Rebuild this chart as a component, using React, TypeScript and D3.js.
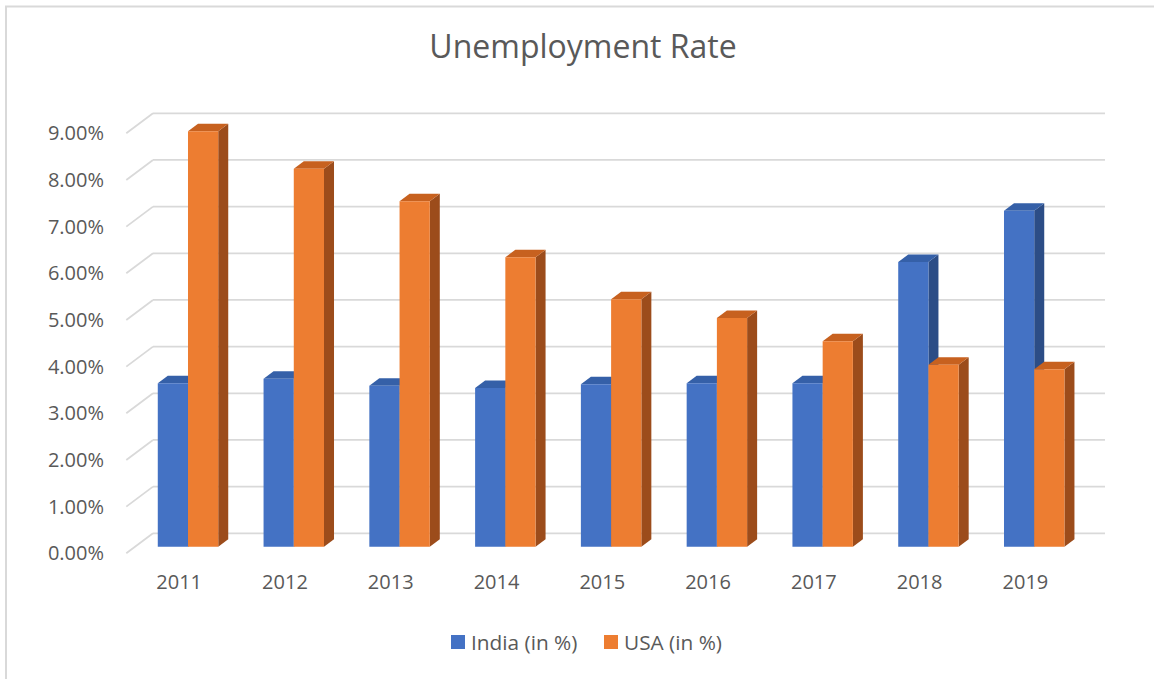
import React from "react";
import * as d3 from "d3";

const years = ["2011", "2012", "2013", "2014", "2015", "2016", "2017", "2018", "2019"];
const india = [3.5, 3.6, 3.45, 3.4, 3.48, 3.5, 3.5, 6.1, 7.2];
const usa = [8.9, 8.1, 7.4, 6.2, 5.3, 4.9, 4.4, 3.9, 3.8];
const yTicks = [0, 1, 2, 3, 4, 5, 6, 7, 8, 9];
const seriesNames = ["India (in %)", "USA (in %)"];

const W = 1154;
const H = 679;
const DX = -26.7; // projection offset of full depth (back -> front)
const DY = 20;
const Z_BACK = 0.295;
const Z_FRONT = 0.67;
const FONT = "'Open Sans', sans-serif";
const TEXT = "#595959";
const GRID = "#d9d9d9";

const colors = [
  { front: "#4472C4", top: "#3560A8", side: "#2C4D86" },
  { front: "#ED7D31", top: "#C7611F", side: "#9C4C1B" },
];

export default function App() {
  const x = d3.scaleBand<string>().domain(years).range([153, 1105]).padding(0);
  const y = d3.scaleLinear().domain([0, 9]).range([533.3, 113.3]);
  const bw = x.bandwidth() / 3.5;
  const fmt = (v: number) => d3.format(".2f")(v) + "%";

  const proj = (px: number, v: number, z: number): [number, number] => [px + DX * z, y(v) + DY * z];
  const pts = (arr: [number, number][]) => arr.map((p) => p.join(",")).join(" ");

  const bars: React.ReactNode[] = [];
  years.forEach((yr, i) => {
    [india[i], usa[i]].forEach((v, s) => {
      const x0 = (x(yr) as number) + bw * 0.75 + s * bw;
      const x1 = x0 + bw;
      const c = colors[s];
      const fTL = proj(x0, v, Z_FRONT);
      const fTR = proj(x1, v, Z_FRONT);
      const fBR = proj(x1, 0, Z_FRONT);
      const fBL = proj(x0, 0, Z_FRONT);
      const bTL = proj(x0, v, Z_BACK);
      const bTR = proj(x1, v, Z_BACK);
      const bBR = proj(x1, 0, Z_BACK);
      bars.push(
        <g key={yr + s}>
          <polygon points={pts([fTR, bTR, bBR, fBR])} fill={c.side} />
          <polygon points={pts([fTL, fTR, bTR, bTL])} fill={c.top} />
          <polygon points={pts([fTL, fTR, fBR, fBL])} fill={c.front} />
        </g>
      );
    });
  });

  return (
    <div style={{ position: "absolute", left: 0, top: 0 }}>
      <svg width={W} height={H} style={{ display: "block", background: "#fff" }}>
        <rect x={6} y={6.5} width={W + 20} height={H + 20} fill="#fff" stroke={GRID} strokeWidth={2} />
        <text x={583} y={58} textAnchor="middle" fontFamily={FONT} fontSize={32} fill={TEXT}>
          Unemployment Rate
        </text>
        {yTicks.map((t) => (
          <g key={t}>
            <line x1={153} x2={1105} y1={y(t)} y2={y(t)} stroke={GRID} strokeWidth={1.8} />
            <line x1={153} y1={y(t)} x2={153 + DX} y2={y(t) + DY} stroke={GRID} strokeWidth={1.8} />
            <text x={104} y={y(t) + DY + 7} textAnchor="end" fontFamily={FONT} fontSize={20} fill={TEXT}>
              {fmt(t)}
            </text>
          </g>
        ))}
        {bars}
        {years.map((yr) => (
          <text key={yr} x={(x(yr) as number) + x.bandwidth() / 2 + DX} y={589} textAnchor="middle" fontFamily={FONT} fontSize={20} fill={TEXT}>
            {yr}
          </text>
        ))}
        <g>
          <rect x={451} y={635} width={14} height={14} fill={colors[0].front} />
          <text x={471} y={650} fontFamily={FONT} fontSize={20.8} fill={TEXT}>{seriesNames[0]}</text>
          <rect x={604} y={635} width={14} height={14} fill={colors[1].front} />
          <text x={624} y={650} fontFamily={FONT} fontSize={20.8} fill={TEXT}>{seriesNames[1]}</text>
        </g>
      </svg>
    </div>
  );
}
